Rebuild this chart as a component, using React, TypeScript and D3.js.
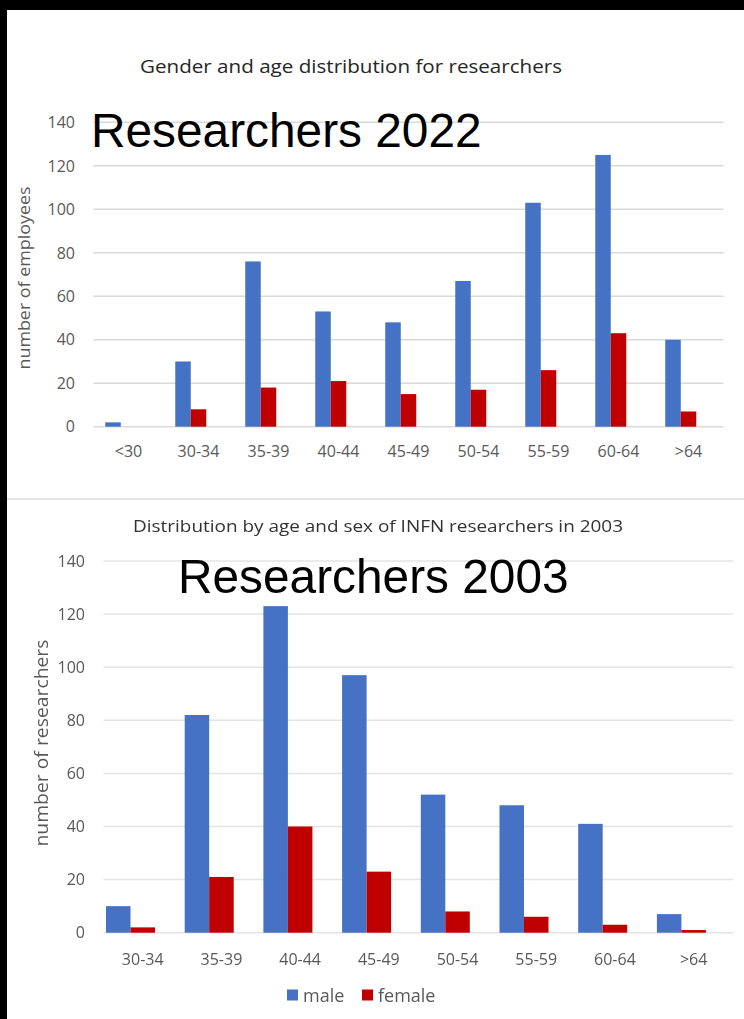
import React from "react";
import * as d3 from "d3";

// Age classes and head counts per sex
const AGES_2022 = ["<30", "30-34", "35-39", "40-44", "45-49", "50-54", "55-59", "60-64", ">64"];
const MALE_2022 = [2, 30, 76, 53, 48, 67, 103, 125, 40];
const FEMALE_2022 = [0, 8, 18, 21, 15, 17, 26, 43, 7];

const AGES_2003 = ["30-34", "35-39", "40-44", "45-49", "50-54", "55-59", "60-64", ">64"];
const MALE_2003 = [10, 82, 123, 97, 52, 48, 41, 7];
const FEMALE_2003 = [2, 21, 40, 23, 8, 6, 3, 1];

const Y_TICKS = [0, 20, 40, 60, 80, 100, 120, 140];
const SERIES = ["male", "female"];
const COLORS: Record<string, string> = { male: "#4472C4", female: "#C00000" };

const FONT = "'Open Sans', 'Noto Sans', sans-serif";
const TICK_COLOR = "#595959";

type PanelProps = {
  ages: string[];
  male: number[];
  female: number[];
  xRange: [number, number];
  yRange: [number, number];
  paddingInner: number;
  gridColor: string;
  yLabelX: number;
  xLabelY: number;
  tickSize: number;
  axisTitle: string;
  axisTitleX: number;
  axisTitleY: number;
  axisTitleLength: number;
  axisTitleSize: number;
};

function Panel(p: PanelProps) {
  const x0 = d3
    .scaleBand<string>()
    .domain(p.ages)
    .range(p.xRange)
    .paddingInner(p.paddingInner)
    .paddingOuter(p.paddingInner / 2);
  // each category band holds three equal slots; the two series use the first two
  const x1 = d3
    .scaleBand<string>()
    .domain(SERIES)
    .range([0, (x0.bandwidth() * 2) / 3]);
  const y = d3.scaleLinear().domain([0, 140]).range(p.yRange);
  const [gx0, gx1] = p.xRange;

  const rows = p.ages.map((age, i) => ({ age, male: p.male[i], female: p.female[i] }));

  return (
    <g>
      {Y_TICKS.map((t) => (
        <g key={t}>
          <line x1={gx0} x2={gx1} y1={y(t)} y2={y(t)} stroke={p.gridColor} strokeWidth={1.5} />
          <text
            x={p.yLabelX}
            y={y(t)}
            dy="0.36em"
            textAnchor="end"
            fontFamily={FONT}
            fontSize={p.tickSize}
            fill={TICK_COLOR}
          >
            {t}
          </text>
        </g>
      ))}
      {rows.map((r) => (
        <g key={r.age} transform={`translate(${x0(r.age)},0)`}>
          {SERIES.map((s) => {
            const v = (r as any)[s] as number;
            if (v <= 0) return null;
            return (
              <rect
                key={s}
                x={x1(s)}
                y={y(v)}
                width={x1.bandwidth()}
                height={y(0) - y(v)}
                fill={COLORS[s]}
              />
            );
          })}
          <text
            x={x0.bandwidth() / 2}
            y={p.xLabelY}
            textAnchor="middle"
            fontFamily={FONT}
            fontSize={16}
            fill={TICK_COLOR}
          >
            {r.age}
          </text>
        </g>
      ))}
      <text
        transform={`translate(${p.axisTitleX},${p.axisTitleY}) rotate(-90)`}
        textAnchor="middle"
        fontFamily={FONT}
        fontSize={p.axisTitleSize}
        fill={TICK_COLOR}
        textLength={p.axisTitleLength}
        lengthAdjust="spacingAndGlyphs"
      >
        {p.axisTitle}
      </text>
    </g>
  );
}

export default function App() {
  const W = 744;
  const H = 1019;
  return (
    <svg
      width={W}
      height={H}
      viewBox={`0 0 ${W} ${H}`}
      style={{ position: "absolute", left: 0, top: 0, display: "block" }}
    >
      <defs>
        <filter id="soft" x="-2%" y="-2%" width="104%" height="104%">
          <feGaussianBlur stdDeviation="0.55" />
        </filter>
      </defs>
      <rect x={0} y={0} width={W} height={H} fill="#000" />
      <rect x={7} y={10} width={W - 7} height={H - 10} fill="#fff" />

      {/* 2022 chart */}
      <text
        x={351}
        y={73}
        textAnchor="middle"
        fontFamily={FONT}
        fontSize={18}
        fill="#262626"
        textLength={422}
        lengthAdjust="spacingAndGlyphs"
      >
        Gender and age distribution for researchers
      </text>
      <Panel
        ages={AGES_2022}
        male={MALE_2022}
        female={FEMALE_2022}
        xRange={[93.5, 723.5]}
        yRange={[426.7, 122.3]}
        paddingInner={0.336}
        gridColor="#D9D9D9"
        yLabelX={75}
        xLabelY={457}
        tickSize={16}
        axisTitle="number of employees"
        axisTitleX={30}
        axisTitleY={278}
        axisTitleLength={183}
        axisTitleSize={16.5}
      />
      <text x={91} y={146.5} fontFamily="'Liberation Sans', Arial, sans-serif" fontSize={47.8} fill="#000">
        Researchers 2022
      </text>

      {/* divider between the two charts */}
      <line x1={7} x2={W} y1={499} y2={499} stroke="#E6E6E6" strokeWidth={2} />

      {/* 2003 chart */}
      <g filter="url(#soft)">
        <text
          x={378}
          y={532}
          textAnchor="middle"
          fontFamily={FONT}
          fontSize={17}
          fill="#333"
          textLength={490}
          lengthAdjust="spacingAndGlyphs"
        >
          Distribution by age and sex of INFN researchers in 2003
        </text>
        <Panel
          ages={AGES_2003}
          male={MALE_2003}
          female={FEMALE_2003}
          xRange={[103.4, 733]}
          yRange={[932.7, 561]}
          paddingInner={0.066}
          gridColor="#E4E4E4"
          yLabelX={85}
          xLabelY={965}
          tickSize={16}
          axisTitle="number of researchers"
          axisTitleX={47.5}
          axisTitleY={743}
          axisTitleLength={207}
          axisTitleSize={17.5}
        />
        {SERIES.map((s, i) => {
          const lx = [287, 362][i];
          return (
            <g key={s}>
              <rect x={lx} y={989.5} width={11} height={11} fill={COLORS[s]} />
              <text x={lx + 16} y={1001.5} fontFamily={FONT} fontSize={18} fill={TICK_COLOR}>
                {s}
              </text>
            </g>
          );
        })}
      </g>
      <text x={178} y={593} fontFamily="'Liberation Sans', Arial, sans-serif" fontSize={47.8} fill="#000">
        Researchers 2003
      </text>
    </svg>
  );
}
